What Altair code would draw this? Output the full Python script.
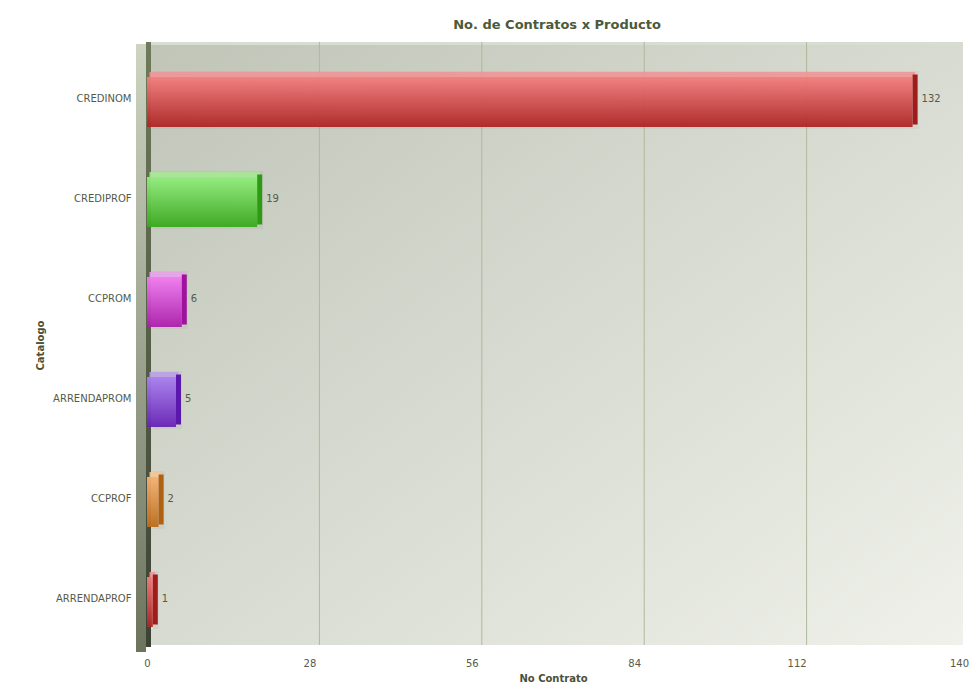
import altair as alt
import pandas as pd

# ---- data ----
categories = ["CREDINOM", "CREDIPROF", "CCPROM", "ARRENDAPROM", "CCPROF", "ARRENDAPROF"]
values = [132, 19, 6, 5, 2, 1]
x_ticks = [0, 28, 56, 84, 112, 140]
grid_values = [28, 56, 84, 112]

# ---- styles ----
front_top = ["#f47e7e", "#92ee7e", "#f27cf2", "#aa80f0", "#f6b272", "#f47e7e"]
front_bottom = ["#ae2424", "#38a81c", "#ac1eac", "#6622b6", "#bc6c1c", "#ae2424"]
side_col = ["#a01c1c", "#2e9a14", "#9e129e", "#5a18ac", "#ac6212", "#a01c1c"]
cap_col = ["#ee9696", "#a6e896", "#eaa2ea", "#baa0e6", "#f2c698", "#ee9696"]

FONT = "DejaVu Sans"
TXT = "#555b48"
W, H = 812, 600
DEPTH = 4

df = pd.DataFrame({"Catalogo": categories, "No Contrato": values})
one = pd.DataFrame({"a": [0]})

xscale = alt.Scale(domain=[0, 140], nice=False, zero=True)
yscale = alt.Scale(domain=categories, paddingInner=0.5, paddingOuter=0.25)


def lin(c0, c1, x2=0, y2=1):
    return alt.LinearGradient(
        gradient="linear",
        stops=[alt.GradientStop(color=c0, offset=0), alt.GradientStop(color=c1, offset=1)],
        x1=0, y1=0, x2=x2, y2=y2,
    )


x_axis = alt.Axis(
    values=x_ticks, grid=False, domain=False, ticks=False, labelPadding=6,
    labelFlush=False, labelFontSize=10, labelColor=TXT, labelFont=FONT,
    title="No Contrato", titleFontSize=10, titleFont=FONT, titleFontWeight="bold",
    titleColor="#4a5038", titleY=21,
)
y_axis = alt.Axis(
    domain=False, ticks=False, grid=False, labelPadding=16, labelOffset=-3,
    labelFontSize=10, labelColor=TXT, labelFont=FONT,
    title="Catalogo", titleFontSize=10, titleFont=FONT, titleFontWeight="bold",
    titleColor="#4a5038", titleX=-107, titleY=293, titleAlign="center",
    titleBaseline="middle",
)
xenc = alt.X("No Contrato:Q", scale=xscale, axis=x_axis)
yenc = alt.Y("Catalogo:N", scale=yscale, sort=categories, axis=y_axis)

# back wall (canvas)
bg = alt.Chart(one).mark_rect(fill=lin("#c0c5b8", "#eff1ea", 1, 1)).encode(
    x=alt.value(DEPTH), x2=alt.value(W + DEPTH), y=alt.value(-10), y2=alt.value(593)
)
top_edge = alt.Chart(one).mark_rect(fill="#d9ddd1").encode(
    x=alt.value(DEPTH - 2), x2=alt.value(W + DEPTH), y=alt.value(-10), y2=alt.value(-7)
)

grid = alt.Chart(pd.DataFrame({"No Contrato": grid_values})).mark_rule(
    color="#aeba9a", strokeWidth=1, xOffset=10
).encode(x=xenc, y=alt.value(-10), y2=alt.value(593))

# left 3D wall
wall_face = alt.Chart(one).mark_rect(fill=lin("#cdd4c1", "#6c745e")).encode(
    x=alt.value(-11), x2=alt.value(-1), y=alt.value(-8), y2=alt.value(600)
)
wall_side = alt.Chart(one).mark_rect(fill=lin("#6e7a5a", "#3c4234")).encode(
    x=alt.value(-1), x2=alt.value(DEPTH), y=alt.value(-10), y2=alt.value(595)
)

layers = [bg, top_edge, grid, wall_face, wall_side]

base = alt.Chart(df)

# soft shadow
layers.append(
    base.mark_bar(fill="#000000", opacity=0.035, height=58, yOffset=-2, xOffset=6).encode(x=xenc, y=yenc)
)

for i, cat in enumerate(categories):
    sub = base.transform_filter(alt.FieldEqualPredicate(field="Catalogo", equal=cat))
    front = sub.mark_bar(fill=lin(front_top[i], front_bottom[i]), opacity=0.95).encode(x=xenc, y=yenc)
    cap = sub.mark_bar(fill=cap_col[i], opacity=0.9, height=5, yOffset=-27.5, xOffset=2.5, x2Offset=2.5).encode(
        x=xenc, y=yenc
    )
    side = sub.mark_bar(fill=side_col[i], height=50, yOffset=-2.5, xOffset=5).encode(
        x=xenc, x2=alt.X2("No Contrato:Q"), y=yenc
    )
    layers += [front, cap, side]

labels = base.mark_text(
    align="left", baseline="middle", dx=9, dy=-3, fontSize=10, color=TXT, font=FONT
).encode(x=xenc, y=yenc, text=alt.Text("No Contrato:Q"))
layers.append(labels)

chart = (
    alt.layer(*layers)
    .properties(
        width=W,
        height=H,
        title=alt.TitleParams(
            "No. de Contratos x Producto", fontSize=13, font=FONT, fontWeight="bold",
            color="#4b5a3a", offset=10, anchor="middle", dx=4,
        ),
        autosize=alt.AutoSizeParams(type="none"),
        padding={"left": 139, "top": 44, "right": 13, "bottom": 36},
        background="white",
    )
    .configure_view(stroke=None)
)

chart.save("out.html", embed_options={"renderer": "svg", "actions": False})
